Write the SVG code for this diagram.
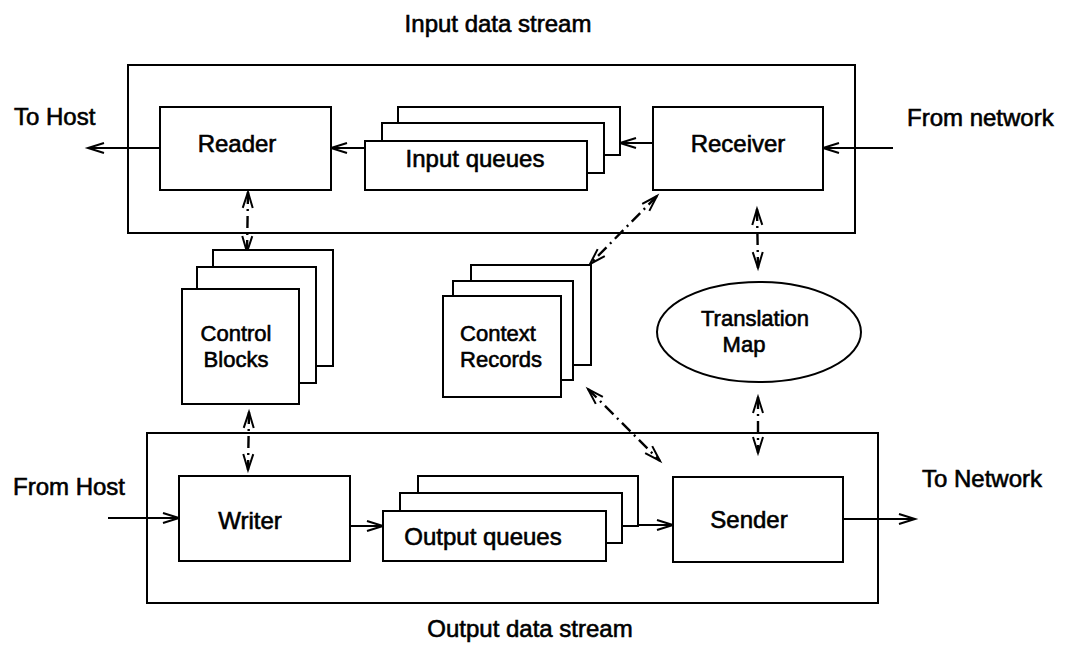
<svg xmlns="http://www.w3.org/2000/svg" width="1065" height="648" viewBox="0 0 1065 648">
  <style>
    .box { fill: #fff; stroke: #000; stroke-width: 2; }
    .frame { fill: none; stroke: #000; stroke-width: 2; }
    .flow { fill: none; stroke: #000; stroke-width: 1.8; marker-end: url(#head); }
    .link { fill: none; stroke: #000; stroke-width: 2.4; stroke-dasharray: 12 5 2 5;
            marker-start: url(#head); marker-end: url(#head); }
    text { font-family: "Liberation Sans", Arial, sans-serif; font-size: 24px; fill: #000;
           stroke: #000; stroke-width: 0.6; }
    .c { text-anchor: middle; }
    .s { font-size: 22px; }
  </style>
  <defs>
    <marker id="head" viewBox="-17 -6 18 12" refX="0" refY="0" markerWidth="18" markerHeight="12"
            markerUnits="userSpaceOnUse" orient="auto-start-reverse" overflow="visible">
      <path d="M-16,-5 L0,0 L-16,5" fill="none" stroke="#000" stroke-width="2"/>
    </marker>
  </defs>

  <rect fill="#fff" x="0" y="0" width="1065" height="648"/>

  <!-- stream frames -->
  <g id="input-stream">
    <rect class="frame" x="128" y="65" width="727" height="168"/>
    <text class="c" x="498" y="32">Input data stream</text>
  </g>
  <g id="output-stream">
    <rect class="frame" x="147" y="433" width="731" height="170"/>
    <text class="c" x="530" y="637">Output data stream</text>
  </g>

  <!-- connectors -->
  <g id="connectors">
    <line class="flow" x1="160" y1="148" x2="88" y2="148"/>
    <line class="flow" x1="365" y1="148" x2="331" y2="148"/>
    <line class="flow" x1="653" y1="143" x2="620" y2="143"/>
    <line class="flow" x1="893" y1="148" x2="823" y2="148"/>
    <line class="flow" x1="108" y1="518" x2="179" y2="518"/>
    <line class="flow" x1="350" y1="526" x2="383" y2="526"/>
    <line class="flow" x1="638" y1="525" x2="673" y2="525"/>
    <line class="flow" x1="843" y1="519" x2="915" y2="519"/>

    <line class="link" x1="248" y1="192" x2="247" y2="252"/>
    <line class="link" x1="249" y1="412" x2="248" y2="470"/>
    <line class="link" x1="657" y1="196" x2="590" y2="264"/>
    <line class="link" x1="757" y1="209" x2="758" y2="268"/>
    <line class="link" x1="758" y1="397" x2="758" y2="453"/>
    <line class="link" x1="588" y1="389" x2="660" y2="461"/>
  </g>

  <!-- outside labels -->
  <g id="to-host"><text x="14" y="125">To Host</text></g>
  <g id="from-network"><text x="907" y="126">From network</text></g>
  <g id="from-host"><text x="13" y="495">From Host</text></g>
  <g id="to-network"><text x="922" y="487">To Network</text></g>

  <!-- input side -->
  <g id="reader">
    <rect class="box" x="160" y="107" width="171" height="83"/>
    <text class="c" x="237" y="152">Reader</text>
  </g>
  <g id="input-queues">
    <rect class="box" x="398" y="107" width="222" height="48"/>
    <rect class="box" x="382" y="123" width="222" height="50"/>
    <rect class="box" x="365" y="141" width="222" height="49"/>
    <text class="c" x="475" y="167">Input queues</text>
  </g>
  <g id="receiver">
    <rect class="box" x="653" y="107" width="170" height="83"/>
    <text class="c" x="738" y="152">Receiver</text>
  </g>

  <!-- shared state -->
  <g id="control-blocks">
    <rect class="box" x="213" y="250" width="120" height="116"/>
    <rect class="box" x="197" y="267" width="119" height="116"/>
    <rect class="box" x="182" y="289" width="117" height="115"/>
    <text class="c s" x="236" y="341">Control</text>
    <text class="c s" x="236" y="367">Blocks</text>
  </g>
  <g id="context-records">
    <rect class="box" x="471" y="265" width="120" height="100"/>
    <rect class="box" x="453" y="281" width="120" height="99"/>
    <rect class="box" x="443" y="296" width="118" height="101"/>
    <text class="c s" x="498" y="341">Context</text>
    <text class="c s" x="501" y="367">Records</text>
  </g>
  <g id="translation-map">
    <ellipse class="box" cx="759" cy="332" rx="102" ry="50"/>
    <text class="c s" x="755" y="326">Translation</text>
    <text class="c s" x="744" y="352">Map</text>
  </g>

  <!-- output side -->
  <g id="writer">
    <rect class="box" x="179" y="476" width="171" height="85"/>
    <text class="c" x="250" y="529">Writer</text>
  </g>
  <g id="output-queues">
    <rect class="box" x="418" y="476" width="220" height="50"/>
    <rect class="box" x="400" y="493" width="222" height="50"/>
    <rect class="box" x="383" y="511" width="223" height="50"/>
    <text class="c" x="483" y="545">Output queues</text>
  </g>
  <g id="sender">
    <rect class="box" x="673" y="477" width="170" height="85"/>
    <text class="c" x="749" y="528">Sender</text>
  </g>
</svg>
